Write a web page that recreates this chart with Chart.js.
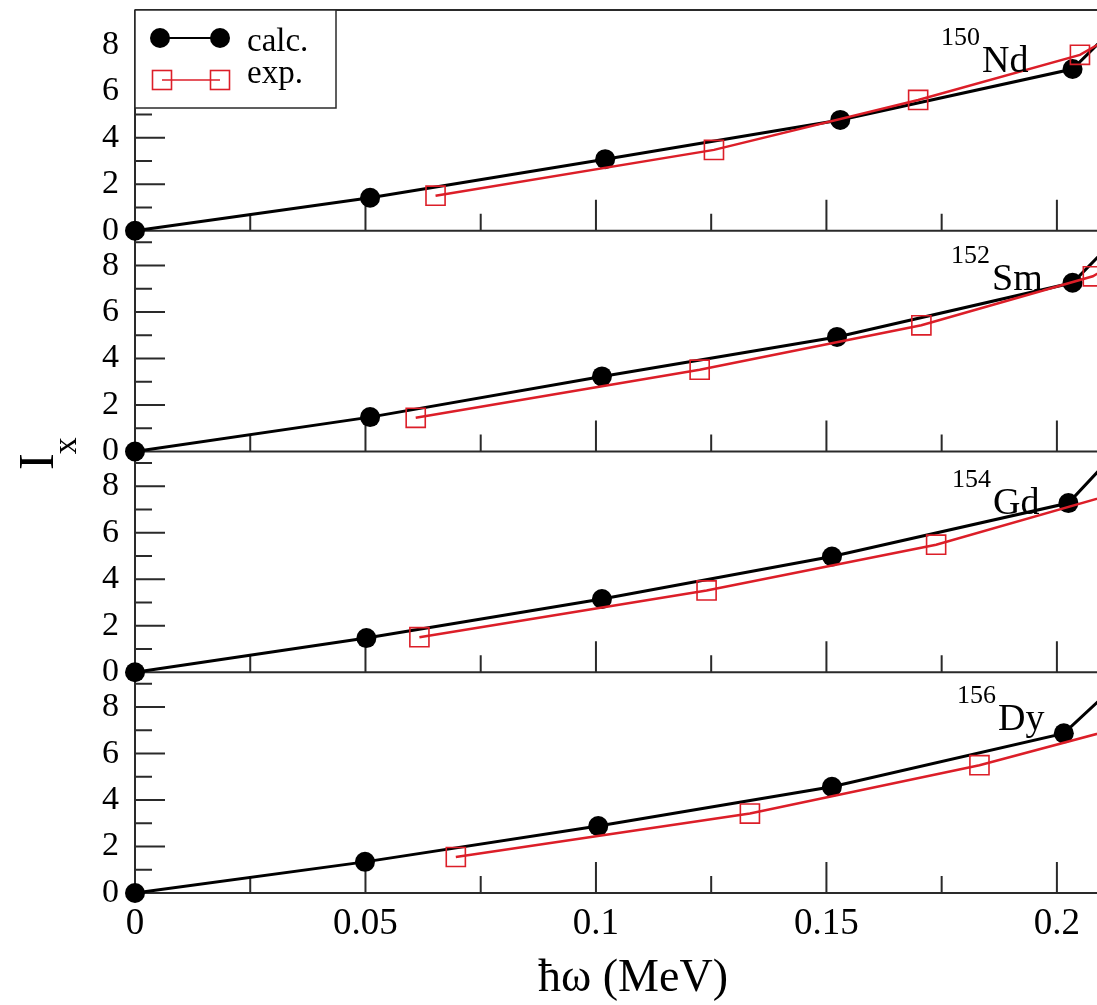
<!DOCTYPE html>
<html>
<head>
<meta charset="utf-8">
<script src="https://cdn.jsdelivr.net/npm/chart.js@4.4.0/dist/chart.umd.min.js"></script>
<style>
  html, body { margin: 0; padding: 0; background: #fff; }
  #wrap { width: 1097px; height: 1005px; }
</style>
</head>
<body>
<div id="wrap"><canvas id="chart"></canvas></div>
<script>
// panels from top to bottom
const nuclei = ['Nd', 'Sm', 'Gd', 'Dy'];
const massNumbers = ['150', '152', '154', '156'];

// hbar*omega (MeV) and I_x, calc. (black dots)
const omegaCalcNd = [0, 0.051, 0.102, 0.153, 0.2034, 0.212];
const ixCalcNd    = [0, 1.42, 3.08, 4.77, 6.96, 8.65];
const omegaCalcSm = [0, 0.051, 0.1013, 0.1523, 0.2034, 0.212];
const ixCalcSm    = [0, 1.48, 3.23, 4.93, 7.26, 9.0];
const omegaCalcGd = [0, 0.0502, 0.1013, 0.1512, 0.2025, 0.212];
const ixCalcGd    = [0, 1.47, 3.15, 4.98, 7.28, 9.3];
const omegaCalcDy = [0, 0.0499, 0.1005, 0.1512, 0.2015, 0.212];
const ixCalcDy    = [0, 1.34, 2.88, 4.57, 6.87, 8.81];

// exp. (red open squares)
const omegaExpNd = [0.0652, 0.1256, 0.1699, 0.205, 0.222];
const ixExpNd    = [1.51, 3.48, 5.63, 7.57, 9.5];
const omegaExpSm = [0.0609, 0.1225, 0.1706, 0.2078, 0.225];
const ixExpSm    = [1.45, 3.52, 5.43, 7.54, 9.5];
const omegaExpGd = [0.0617, 0.124, 0.1738, 0.211];
const ixExpGd    = [1.51, 3.52, 5.49, 7.6];
const omegaExpDy = [0.0696, 0.1334, 0.1832, 0.221];
const ixExpDy    = [1.55, 3.42, 5.50, 7.5];

const yTicks = [0, 2, 4, 6, 8];
const xTicks = [0, 0.05, 0.1, 0.15, 0.2];

const SERIF = "'Liberation Serif', 'Times New Roman', serif";
const RED = '#dc1e28';
const FRAME = '#2a2a2a';

const panels = [
  { id: 'yNd', cx: omegaCalcNd, cy: ixCalcNd, ex: omegaExpNd, ey: ixExpNd },
  { id: 'ySm', cx: omegaCalcSm, cy: ixCalcSm, ex: omegaExpSm, ey: ixExpSm },
  { id: 'yGd', cx: omegaCalcGd, cy: ixCalcGd, ex: omegaExpGd, ey: ixExpGd },
  { id: 'yDy', cx: omegaCalcDy, cy: ixCalcDy, ex: omegaExpDy, ey: ixExpDy }
];

function toPoints(xs, ys) {
  return xs.map((x, i) => ({ x: x, y: ys[i] }));
}

const datasets = [];
panels.forEach(p => {
  datasets.push({
    label: 'exp.',
    yAxisID: p.id,
    data: toPoints(p.ex, p.ey),
    borderColor: RED,
    borderWidth: 2.5,
    pointStyle: 'rect',
    pointRadius: 13.5,
    pointBorderWidth: 1.6,
    pointBorderColor: RED,
    pointBackgroundColor: 'rgba(0,0,0,0)',
    clip: false,
    order: 1
  });
  datasets.push({
    label: 'calc.',
    yAxisID: p.id,
    data: toPoints(p.cx, p.cy),
    borderColor: '#000',
    borderWidth: 3,
    pointRadius: 10,
    pointBorderWidth: 0,
    pointBackgroundColor: '#000',
    clip: false,
    order: 2
  });
});

function panelAxis(weight) {
  return {
    type: 'linear',
    position: 'left',
    stack: 'panels',
    stackWeight: 1,
    weight: weight,
    min: 0,
    max: 9.5,
    afterBuildTicks: s => { s.ticks = yTicks.map(v => ({ value: v })); },
    grid: { display: false, drawTicks: false },
    border: { display: false },
    ticks: { padding: 16, autoSkip: false, color: '#000', font: { family: SERIF, size: 34 } },
    afterFit: s => { s.width = 135; s.paddingTop = 0; s.paddingBottom = 0; }
  };
}

const scales = {
  x: {
    type: 'linear',
    min: 0,
    max: 0.2087,
    afterBuildTicks: s => { s.ticks = xTicks.map(v => ({ value: v })); },
    grid: { display: false, drawTicks: false },
    border: { display: false },
    ticks: {
      padding: 9, maxRotation: 0, autoSkip: false, color: '#000',
      font: { family: SERIF, size: 37 },
      callback: v => String(Number(v.toFixed(3)))
    },
    afterFit: s => { s.height = 112; s.paddingLeft = 0; s.paddingRight = 0; }
  }
};
panels.forEach((p, i) => { scales[p.id] = panelAxis(4 - i); });

// frames, inward ticks, legend box and labels
const decorations = {
  id: 'decorations',
  beforeDatasetsDraw(chart) {
    const ctx = chart.ctx;
    const area = chart.chartArea;
    const xs = chart.scales.x;
    ctx.save();
    ctx.strokeStyle = FRAME;
    ctx.lineWidth = 2;
    ctx.beginPath();
    ctx.moveTo(area.left, area.top);
    ctx.lineTo(area.right, area.top);
    ctx.moveTo(area.left, area.top);
    ctx.lineTo(area.left, area.bottom);
    panels.forEach(p => {
      const ys = chart.scales[p.id];
      const bottom = ys.getPixelForValue(0);
      ctx.moveTo(area.left, bottom);
      ctx.lineTo(area.right, bottom);
      for (let v = 1; v <= 9; v++) {
        const py = ys.getPixelForValue(v);
        ctx.moveTo(area.left, py);
        ctx.lineTo(area.left + (v % 2 === 0 ? 30 : 17), py);
      }
      for (let k = 1; k <= 8; k++) {
        const px = xs.getPixelForValue(k * 0.025);
        ctx.moveTo(px, bottom);
        ctx.lineTo(px, bottom - (k % 2 === 0 ? 31 : 17));
      }
    });
    ctx.stroke();
    ctx.restore();
  },
  afterDraw(chart) {
    const ctx = chart.ctx;
    const area = chart.chartArea;
    ctx.save();

    // legend
    ctx.fillStyle = '#fff';
    ctx.fillRect(area.left, area.top, 201, 98);
    ctx.strokeStyle = FRAME;
    ctx.lineWidth = 1.5;
    ctx.strokeRect(area.left, area.top, 201, 98);
    const r1 = area.top + 28, r2 = area.top + 70;
    ctx.strokeStyle = '#000';
    ctx.lineWidth = 2;
    ctx.beginPath(); ctx.moveTo(160, r1); ctx.lineTo(220, r1); ctx.stroke();
    ctx.fillStyle = '#000';
    [160, 220].forEach(x => { ctx.beginPath(); ctx.arc(x, r1, 10, 0, Math.PI * 2); ctx.fill(); });
    ctx.strokeStyle = RED;
    ctx.lineWidth = 1.6;
    ctx.beginPath(); ctx.moveTo(162, r2); ctx.lineTo(220, r2); ctx.stroke();
    [162, 220].forEach(x => ctx.strokeRect(x - 9.5, r2 - 9.5, 19, 19));
    ctx.fillStyle = '#000';
    ctx.font = '33px ' + SERIF;
    ctx.textBaseline = 'alphabetic';
    ctx.textAlign = 'left';
    ctx.fillText('calc.', 247, r1 + 13);
    ctx.fillText('exp.', 247, r2 + 3);

    // nucleus labels
    const labelX = [982, 992, 993, 998];
    const labelBase = [62, 59, 62, 58];
    panels.forEach((p, i) => {
      const top = chart.scales[p.id].getPixelForValue(9.5);
      const base = top + labelBase[i];
      ctx.font = '38px ' + SERIF;
      ctx.textAlign = 'left';
      ctx.fillText(nuclei[i], labelX[i], base);
      ctx.font = '26px ' + SERIF;
      ctx.textAlign = 'right';
      ctx.fillText(massNumbers[i], labelX[i] - 2, base - 27);
    });

    // axis titles
    ctx.textAlign = 'center';
    ctx.textBaseline = 'middle';
    ctx.font = '46px ' + SERIF;
    ctx.fillText('\u0127\u03c9 (MeV)', 633, 979);

    ctx.translate(53, 470);
    ctx.rotate(-Math.PI / 2);
    ctx.textAlign = 'left';
    ctx.textBaseline = 'alphabetic';
    ctx.font = '50px ' + SERIF;
    ctx.fillText('I', 0, 0);
    const w = ctx.measureText('I').width;
    ctx.font = '34px ' + SERIF;
    ctx.fillText('x', w - 1, 23);
    ctx.restore();
  }
};

new Chart(document.getElementById('chart'), {
  type: 'line',
  data: { datasets: datasets },
  options: {
    responsive: true,
    maintainAspectRatio: false,
    animation: false,
    devicePixelRatio: 1,
    events: [],
    layout: { autoPadding: false, padding: { top: 10, left: 0, right: 0, bottom: 0 } },
    plugins: { legend: { display: false }, tooltip: { enabled: false } },
    scales: scales
  },
  plugins: [decorations]
});
</script>
</body>
</html>
